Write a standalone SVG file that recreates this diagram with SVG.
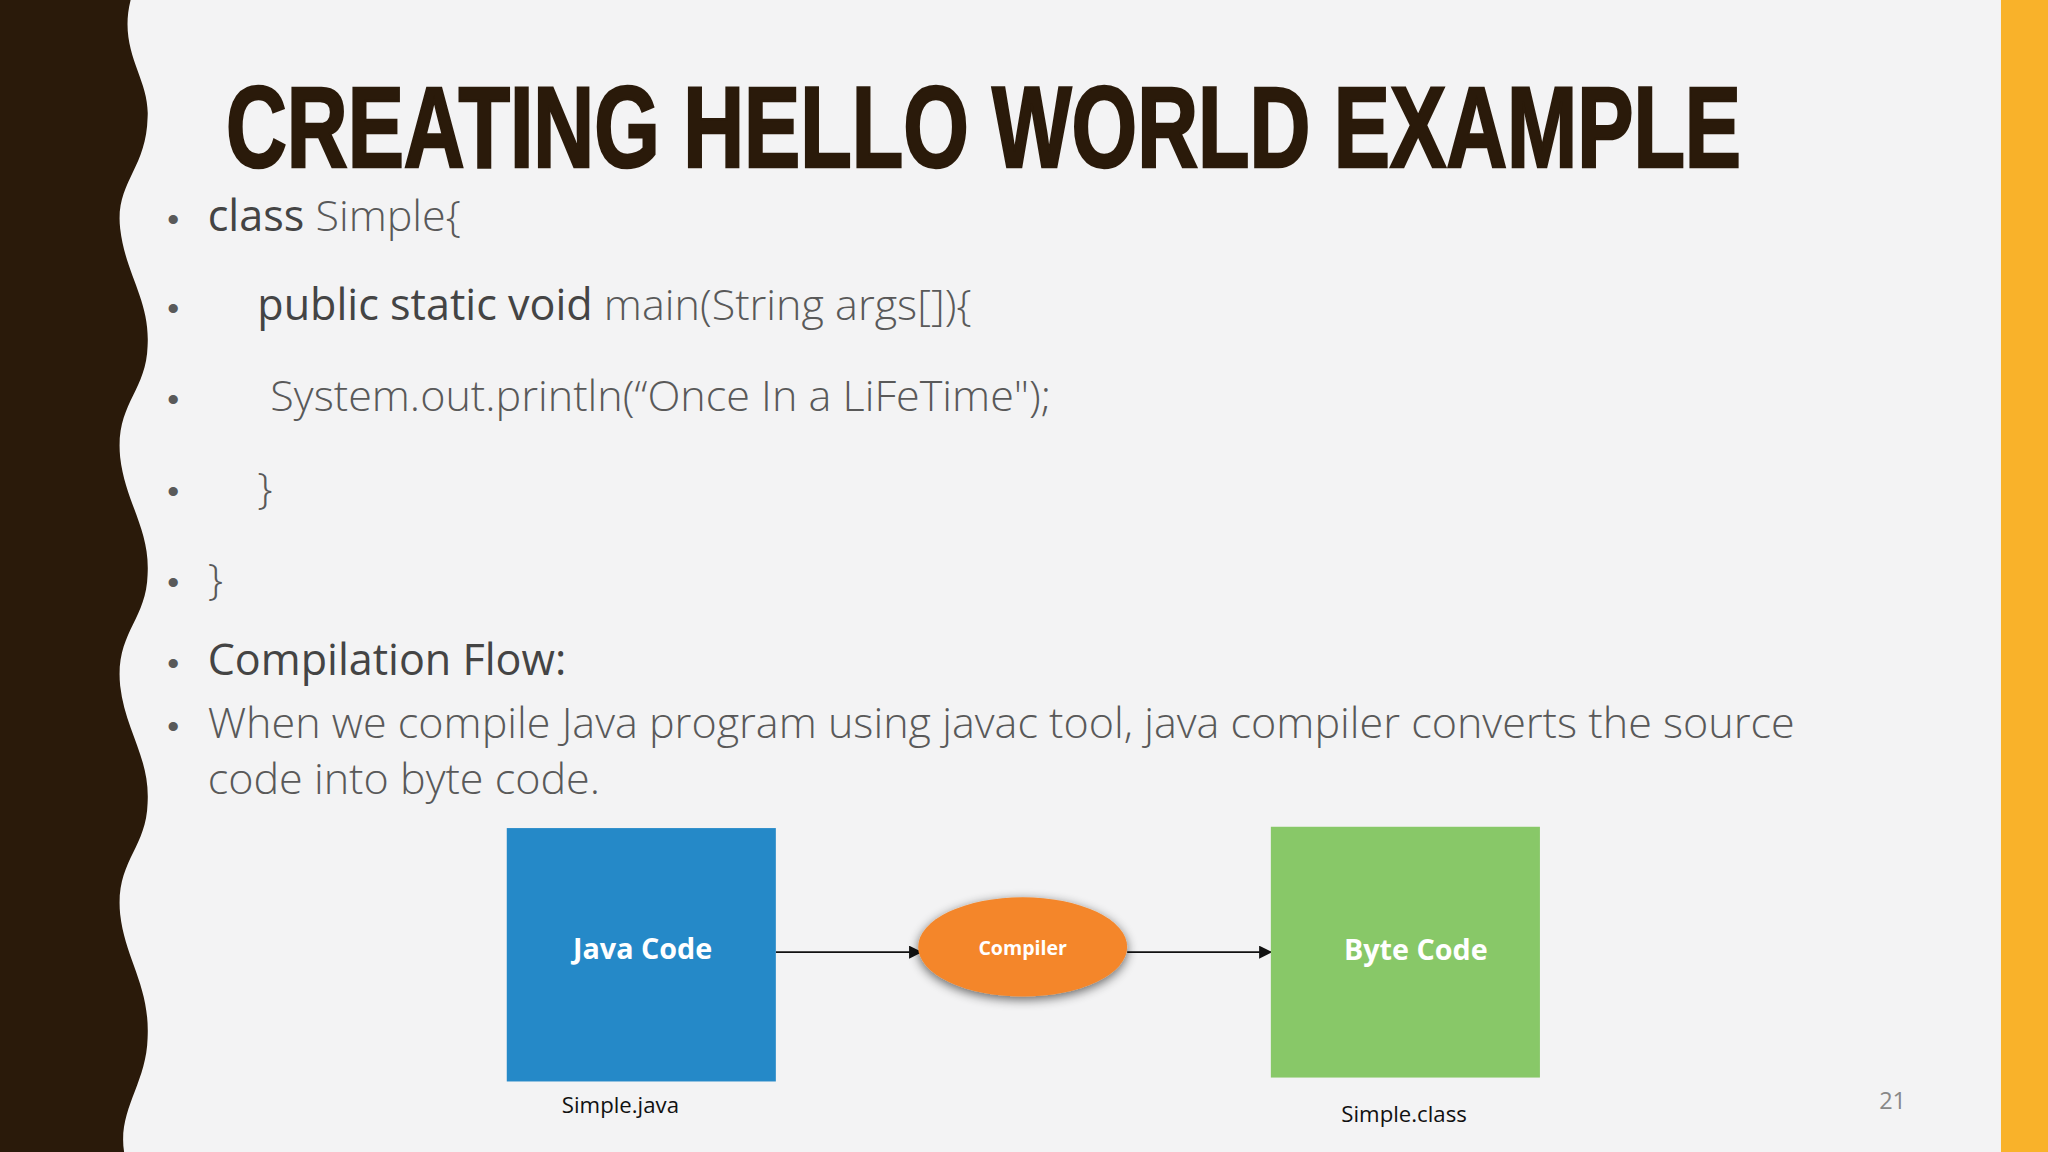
<svg xmlns="http://www.w3.org/2000/svg" width="2048" height="1152" viewBox="0 0 2048 1152">
<defs>
<style>
.b{font-family:"Open Sans","Liberation Sans",sans-serif;font-weight:300;font-size:33px;fill:#595959}
.d{fill:#444;font-weight:400}
.bl{font-family:"Liberation Sans",sans-serif;font-size:26px;fill:#595959}
.w{font-family:"Open Sans","Liberation Sans",sans-serif;font-weight:700;fill:#fff;text-anchor:middle}
.cap{font-family:"Open Sans","Liberation Sans",sans-serif;font-size:17px;fill:#111;text-anchor:middle}
</style>
<marker id="ah" markerWidth="10" markerHeight="10" refX="9" refY="5" orient="auto" markerUnits="userSpaceOnUse"><path d="M0,0 L10,5 L0,10 z" fill="#111"/></marker>
<filter id="sh" x="-30%" y="-40%" width="160%" height="180%"><feGaussianBlur in="SourceAlpha" stdDeviation="4"/><feOffset dx="0" dy="2"/><feComponentTransfer><feFuncA type="linear" slope="0.6"/></feComponentTransfer><feMerge><feMergeNode/><feMergeNode in="SourceGraphic"/></feMerge></filter>
</defs>
<g transform="scale(1.30612)">
<rect width="1568" height="882" fill="#f3f3f4"/>
<path d="M0,0 H100 C90,40 115,60 113,90 C112,130 88,140 92,175 C96,210 115,230 113,265 C112,300 88,310 92,350 C96,385 115,405 113,440 C112,475 88,485 92,525 C96,560 115,580 113,615 C112,650 88,660 92,700 C96,735 115,755 113,795 C112,830 90,850 95,882 H0 Z" fill="#2a1a0a"/>
<rect x="1532" y="0" width="36" height="882" fill="#f9b22a"/>
<text x="173" y="128" font-family="Liberation Sans Narrow,Liberation Sans,sans-serif" font-weight="900" font-size="88" fill="#2a1a0a" textLength="1160" lengthAdjust="spacingAndGlyphs" stroke="#2a1a0a" stroke-width="2">CREATING HELLO WORLD EXAMPLE</text>
<g class="bl"><text x="128" y="177">•</text><text x="128" y="245">•</text><text x="128" y="315">•</text><text x="128" y="385">•</text><text x="128" y="455">•</text><text x="128" y="517">•</text><text x="128" y="565">•</text></g>
<text class="b" x="159" y="177"><tspan class="d">class</tspan> Simple{</text>
<text class="b" x="197" y="245"><tspan class="d">public static void</tspan> main(String args[]){</text>
<text class="b" x="207" y="315">System.out.println(“Once In a LiFeTime");</text>
<text class="b" x="197" y="385">}</text>
<text class="b" x="159" y="455">}</text>
<text class="b" x="159" y="517" style="fill:#444;font-weight:400">Compilation Flow:</text>
<text class="b" x="159" y="565">When we compile Java program using javac tool, java compiler converts the source</text>
<text class="b" x="159" y="608">code into byte code.</text>
<g id="connectors" stroke="#111" stroke-width="1.3" marker-end="url(#ah)">
<line x1="594" y1="729" x2="705" y2="729"/>
<line x1="863" y1="729" x2="973" y2="729"/>
</g>
<g id="java"><rect x="388" y="634" width="206" height="194" fill="#2589c8"/><text class="w" x="492" y="734" font-size="22">Java Code</text><text class="cap" x="475" y="852">Simple.java</text></g>
<g id="compiler"><ellipse cx="783" cy="725" rx="80" ry="38" fill="#f4862a" filter="url(#sh)"/><text class="w" x="783" y="731" font-size="15">Compiler</text></g>
<g id="byte"><rect x="973" y="633" width="206" height="192" fill="#88c868"/><text class="w" x="1084" y="735" font-size="22">Byte Code</text><text class="cap" x="1075" y="859">Simple.class</text></g>
<text x="1449" y="849" font-family="Open Sans,Liberation Sans,sans-serif" font-size="18" fill="#888" text-anchor="middle">21</text>
</g>
</svg>
